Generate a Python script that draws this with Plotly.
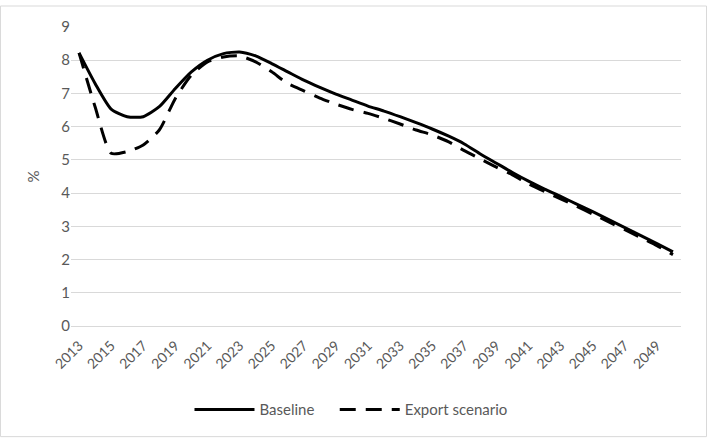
import plotly.graph_objects as go

years = list(range(2013, 2051))
baseline = [8.22, 7.3, 6.53, 6.3, 6.3, 6.6, 7.15, 7.65, 8.0, 8.2, 8.25, 8.13, 7.9, 7.65, 7.4,
            7.18, 6.98, 6.8, 6.62, 6.47, 6.3, 6.12, 5.93, 5.72, 5.48, 5.18, 4.9, 4.62, 4.36,
            4.12, 3.9, 3.67, 3.44, 3.2, 2.96, 2.72, 2.48, 2.23]
export = [8.22, 6.6, 5.2, 5.25, 5.45, 5.9, 6.85, 7.55, 7.95, 8.1, 8.13, 7.95, 7.65, 7.3, 7.08,
          6.86, 6.68, 6.52, 6.4, 6.25, 6.08, 5.9, 5.75, 5.55, 5.28, 5.03, 4.78, 4.55, 4.28,
          4.05, 3.83, 3.6, 3.37, 3.13, 2.9, 2.66, 2.42, 2.15]
tick_years = [str(y) for y in range(2013, 2050, 2)]

cats = [str(y) for y in years]
font = "Lato, Open Sans, sans-serif"
grey = "#595959"

fig = go.Figure()
fig.add_trace(go.Scatter(x=cats, y=baseline, name="Baseline" + "\u00a0" * 4, mode="lines",
                         line=dict(color="black", width=3, shape="spline", smoothing=0.6)))
fig.add_trace(go.Scatter(x=cats, y=export, name="Export scenario", mode="lines",
                         line=dict(color="black", width=3, dash="16px,10px", shape="spline", smoothing=0.6)))

fig.update_layout(
    width=711, height=438,
    margin=dict(l=71, r=30, t=27, b=112),
    paper_bgcolor="white", plot_bgcolor="white",
    font=dict(family=font, color=grey, size=14),
    showlegend=True,
    legend=dict(orientation="h", x=0.459, xanchor="center", y=-0.28, yanchor="middle",
                font=dict(size=15, color=grey), itemwidth=60, tracegroupgap=0),
    xaxis=dict(type="category", range=[-0.5, len(cats) - 0.5], tickmode="array",
               tickvals=tick_years, ticktext=tick_years, tickangle=-45,
               showgrid=False, showline=False, ticks="outside", ticklen=5, tickcolor="white",
               tickfont=dict(size=14, color=grey)),
    yaxis=dict(range=[0, 9], dtick=1, showgrid=True, gridcolor="#d9d9d9", gridwidth=1,
               zeroline=True, zerolinecolor="#d9d9d9", zerolinewidth=1,
               showline=False, ticks="", tickfont=dict(size=15, color=grey),
               title=dict(text="%", font=dict(size=15, color=grey), standoff=18)),
    shapes=[dict(type="rect", xref="paper", yref="paper",
                 x0=-0.1156, x1=1.0418, y0=-0.37, y1=1.0702,
                 line=dict(color="#d9d9d9", width=1), fillcolor="rgba(0,0,0,0)", layer="below")],
)

fig.write_html("out.html")
